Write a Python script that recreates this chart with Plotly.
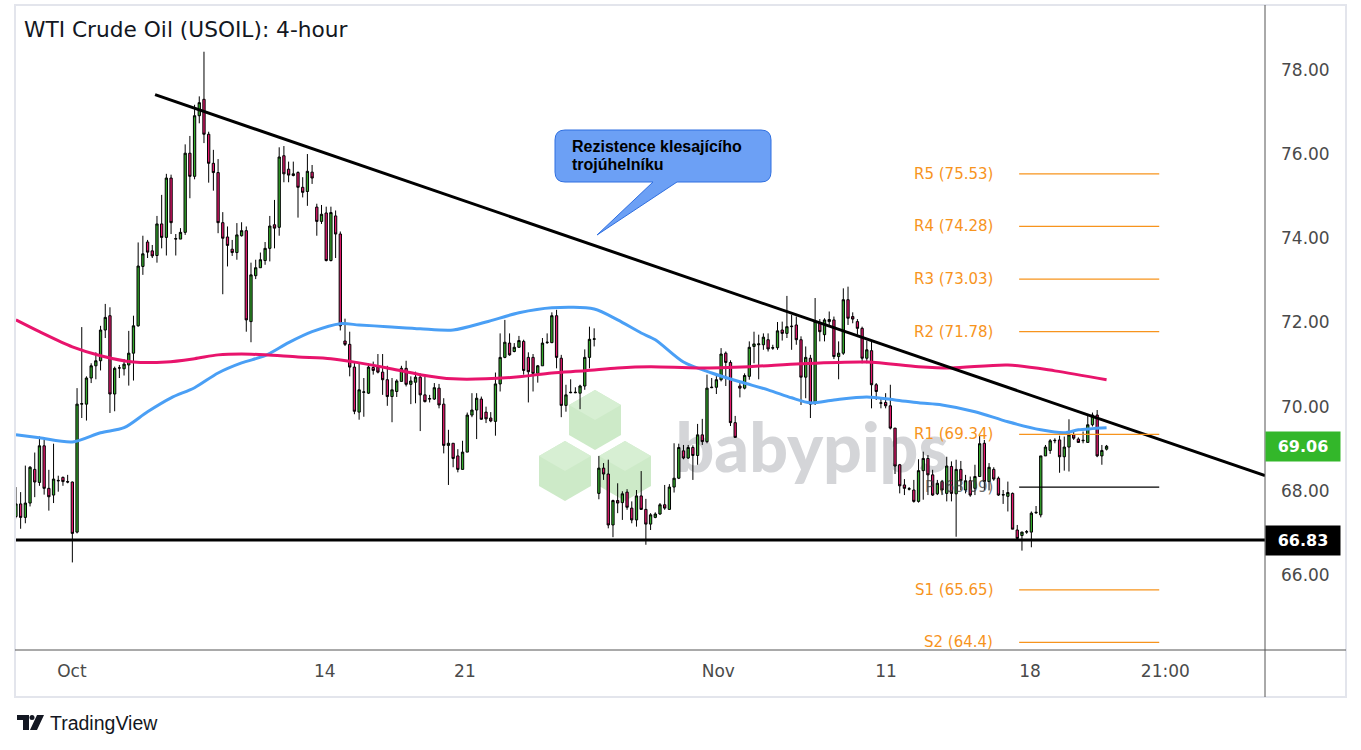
import plotly.graph_objects as go

# ---------------- data ----------------
open_ = [
    67.39, 67.69, 67.37, 67.71, 68.51, 68.20, 69.07, 68.06, 67.90, 68.25,
    68.32, 68.22, 68.21, 67.02, 70.06, 70.06, 70.68, 70.97, 71.09, 71.82,
    72.16, 70.30, 70.92, 70.90, 70.99, 71.27, 71.92, 73.33, 73.91, 73.70,
    73.59, 74.34, 74.02, 75.43, 73.98, 73.98, 74.14, 76.02, 75.47, 76.91,
    77.30, 76.47, 75.78, 75.56, 74.37, 74.03, 73.74, 73.66, 74.06, 74.18,
    72.02, 73.11, 73.30, 73.47, 73.76, 74.32, 74.26, 75.96, 75.64, 75.49,
    75.56, 75.21, 75.11, 75.57, 74.74, 74.40, 74.60, 73.47, 74.53, 74.10,
    71.56, 71.48, 70.94, 69.87, 70.34, 70.32, 70.93, 70.94, 70.82, 70.64,
    70.24, 70.36, 70.60, 70.91, 70.53, 70.58, 70.70, 70.28, 70.18, 70.18,
    70.44, 70.06, 69.08, 69.13, 68.83, 68.51, 68.92, 69.80, 69.92, 70.18,
    69.87, 69.73, 69.65, 70.54, 71.17, 71.51, 71.31, 71.41, 71.55, 71.17,
    71.17, 70.79, 70.97, 71.52, 71.52, 72.16, 71.15, 70.03, 70.33, 70.33,
    70.32, 70.49, 71.17, 71.60, 67.94, 68.54, 68.40, 67.19, 67.77, 67.72,
    67.97, 67.59, 67.31, 67.88, 67.56, 67.21, 67.37, 67.45, 67.67, 67.56,
    68.09, 68.30, 68.95, 68.78, 69.03, 68.84, 69.33, 69.17, 70.45, 70.46,
    70.64, 71.27, 71.05, 69.62, 70.49, 70.44, 70.72, 71.43, 71.47, 71.47,
    71.59, 71.39, 71.40, 71.82, 71.74, 71.90, 71.94, 71.59, 70.70, 71.15,
    70.08, 71.98, 71.71, 72.02, 72.06, 71.19, 71.27, 72.54, 72.14, 72.02,
    71.86, 71.15, 71.33, 70.52, 70.08, 70.10, 70.02, 69.49, 68.62, 68.14,
    68.04, 68.02, 67.75, 68.48, 68.77, 68.38, 67.93, 68.22, 67.94, 68.58,
    67.93, 68.51, 68.02, 68.24, 68.06, 68.34, 69.13, 68.22, 68.51, 68.30,
    67.90, 67.87, 67.94, 67.07, 66.94, 67.02, 67.02, 67.48, 67.43, 68.83,
    68.96, 69.19, 69.21, 68.81, 69.04, 69.33, 69.23, 69.19, 69.15, 69.57,
    69.80, 68.83, 68.99,
]
high = [
    68.09, 67.97, 68.60, 68.59, 68.91, 69.29, 69.21, 68.50, 69.12, 68.36,
    68.34, 68.38, 68.22, 70.44, 71.89, 70.72, 71.03, 71.29, 71.92, 72.44,
    72.36, 70.95, 70.99, 71.13, 71.80, 72.16, 73.90, 74.06, 73.96, 73.84,
    74.53, 75.03, 75.53, 75.51, 74.10, 74.24, 76.23, 76.43, 77.17, 77.37,
    78.43, 76.53, 76.10, 75.88, 74.62, 74.28, 73.96, 74.36, 74.38, 74.28,
    73.42, 73.49, 73.66, 73.91, 74.53, 74.91, 76.16, 76.19, 75.82, 75.82,
    75.59, 75.45, 76.00, 75.74, 74.82, 74.79, 74.75, 74.75, 74.66, 74.16,
    72.09, 71.78, 71.05, 71.05, 70.68, 71.03, 71.07, 71.25, 71.25, 70.97,
    70.68, 70.65, 70.97, 71.09, 70.72, 70.83, 70.79, 70.72, 70.28, 70.56,
    70.54, 70.20, 69.45, 69.13, 68.99, 69.19, 69.86, 70.32, 70.32, 70.24,
    70.00, 69.87, 70.81, 71.74, 72.06, 71.74, 71.51, 71.68, 71.59, 71.29,
    71.25, 70.99, 71.63, 71.74, 72.24, 72.30, 71.23, 70.52, 70.65, 70.46,
    70.52, 71.36, 71.90, 71.86, 68.83, 68.66, 68.74, 67.79, 68.18, 67.99,
    68.04, 67.75, 68.02, 68.47, 67.81, 67.47, 67.49, 67.71, 68.14, 68.16,
    69.13, 69.12, 69.09, 69.09, 69.08, 69.59, 69.71, 70.76, 70.68, 70.78,
    71.39, 71.31, 71.10, 69.78, 70.56, 70.79, 71.55, 71.78, 71.71, 71.74,
    71.74, 71.47, 72.01, 72.02, 72.63, 72.18, 72.14, 71.67, 71.43, 71.23,
    72.58, 72.08, 72.10, 72.26, 72.14, 71.55, 72.81, 72.85, 72.24, 72.08,
    71.90, 71.57, 71.55, 70.56, 70.20, 70.32, 70.52, 69.49, 68.64, 68.28,
    68.09, 68.26, 68.75, 68.93, 68.85, 68.50, 68.26, 68.26, 68.81, 68.70,
    68.74, 68.71, 68.38, 68.34, 68.62, 69.33, 69.21, 68.66, 68.56, 68.34,
    68.02, 68.22, 67.96, 67.19, 67.03, 67.07, 67.51, 67.64, 68.83, 69.09,
    69.23, 69.25, 69.31, 69.29, 69.70, 69.41, 69.27, 69.41, 69.78, 69.86,
    69.92, 69.09, 69.09,
]
low = [
    67.35, 67.10, 67.23, 67.63, 67.85, 68.12, 67.91, 67.53, 67.71, 67.98,
    68.12, 68.18, 66.30, 66.99, 69.73, 69.67, 70.56, 70.65, 70.86, 71.63,
    69.85, 69.89, 70.68, 70.74, 70.50, 70.62, 71.90, 73.13, 73.53, 73.53,
    73.42, 73.76, 73.59, 74.10, 73.59, 73.98, 74.08, 74.95, 75.40, 76.73,
    76.26, 75.32, 75.13, 74.12, 72.67, 73.33, 73.58, 73.49, 74.04, 71.78,
    71.53, 73.03, 73.30, 73.37, 73.45, 73.76, 74.06, 75.33, 75.33, 75.47,
    74.49, 74.97, 74.77, 75.29, 74.06, 74.34, 73.45, 73.45, 73.53, 71.81,
    71.44, 70.72, 69.82, 69.69, 69.76, 70.30, 70.76, 70.79, 70.28, 70.02,
    69.63, 70.23, 70.60, 70.48, 70.06, 70.08, 69.42, 70.10, 70.10, 70.16,
    69.96, 68.89, 68.14, 68.56, 68.44, 68.51, 68.92, 69.75, 69.23, 69.69,
    69.61, 69.63, 69.31, 70.36, 71.15, 71.21, 71.29, 71.40, 70.76, 70.10,
    70.36, 70.57, 70.97, 71.49, 71.51, 70.91, 69.75, 69.88, 70.32, 70.32,
    69.94, 70.40, 70.91, 71.43, 67.80, 68.26, 67.11, 66.90, 67.47, 67.31,
    67.55, 67.23, 67.15, 67.55, 66.72, 67.07, 67.35, 67.43, 67.55, 67.55,
    67.96, 68.28, 68.75, 68.76, 68.26, 68.62, 69.09, 69.13, 70.44, 70.30,
    70.60, 70.49, 69.54, 69.27, 70.22, 70.41, 70.64, 71.03, 70.65, 71.35,
    71.31, 71.35, 71.35, 71.57, 71.63, 71.35, 71.47, 70.04, 70.20, 69.73,
    70.04, 71.55, 71.55, 71.94, 71.13, 70.65, 71.23, 71.94, 71.98, 71.71,
    71.03, 71.03, 69.96, 70.16, 69.96, 69.96, 69.46, 68.40, 67.94, 67.90,
    68.01, 67.72, 67.72, 67.79, 67.90, 67.88, 67.90, 67.90, 67.75, 67.75,
    66.91, 68.02, 67.94, 67.86, 67.90, 68.34, 68.02, 68.01, 68.24, 67.88,
    67.69, 67.51, 67.09, 66.85, 66.58, 66.98, 66.66, 67.45, 67.37, 68.83,
    68.88, 69.13, 68.43, 68.48, 68.46, 69.21, 69.15, 69.13, 69.15, 69.53,
    68.80, 68.62, 68.96,
]
close = [
    67.69, 67.37, 67.71, 68.56, 68.21, 69.07, 68.06, 67.86, 68.28, 68.24,
    68.22, 68.21, 66.99, 70.06, 70.07, 70.68, 70.97, 71.09, 71.82, 72.12,
    70.30, 70.91, 70.92, 71.01, 71.27, 71.92, 73.34, 73.63, 73.67, 73.58,
    74.34, 74.02, 75.43, 74.37, 73.99, 74.14, 76.02, 75.47, 76.91, 77.22,
    76.47, 75.78, 75.56, 74.37, 74.00, 73.83, 73.66, 74.08, 74.18, 72.06,
    73.13, 73.30, 73.49, 73.76, 74.29, 74.24, 75.93, 75.53, 75.50, 75.53,
    75.21, 75.09, 75.59, 75.43, 74.40, 74.57, 73.47, 74.61, 74.10, 71.92,
    71.48, 70.94, 69.89, 70.40, 70.35, 70.94, 70.86, 70.82, 70.64, 70.24,
    70.40, 70.61, 70.91, 70.53, 70.61, 70.70, 70.28, 70.12, 70.19, 70.45,
    70.04, 69.08, 69.13, 68.77, 68.51, 68.92, 69.80, 69.92, 70.20, 69.70,
    69.71, 69.66, 70.54, 71.17, 71.53, 71.23, 71.41, 71.57, 70.86, 70.83,
    70.79, 70.97, 71.51, 71.53, 72.16, 71.17, 70.03, 70.28, 70.34, 70.34,
    70.49, 71.17, 71.60, 71.61, 68.54, 68.40, 67.19, 67.77, 67.71, 67.93,
    67.61, 67.31, 67.88, 67.56, 67.21, 67.43, 67.45, 67.67, 67.59, 68.09,
    68.30, 69.03, 68.78, 69.03, 68.84, 69.33, 69.17, 70.44, 70.46, 70.64,
    71.25, 71.05, 69.62, 69.27, 70.44, 70.74, 71.41, 71.49, 71.49, 71.65,
    71.37, 71.40, 71.80, 71.74, 71.90, 71.91, 71.59, 70.70, 71.17, 70.06,
    72.02, 71.78, 72.06, 72.07, 71.19, 71.27, 72.54, 72.10, 72.08, 71.86,
    71.15, 71.35, 70.52, 70.36, 70.09, 70.02, 69.49, 68.59, 68.12, 68.06,
    68.05, 67.75, 68.48, 68.77, 68.38, 67.90, 68.18, 68.02, 68.59, 67.94,
    68.51, 68.24, 68.24, 67.90, 68.34, 69.12, 68.22, 68.56, 68.28, 67.90,
    67.91, 67.96, 67.09, 66.87, 67.02, 67.03, 67.47, 67.49, 68.83, 69.04,
    69.19, 69.20, 68.81, 69.04, 69.33, 69.25, 69.15, 69.20, 69.57, 69.80,
    68.83, 68.96, 69.06,
]

# moving averages read at selected candles (candle index, price)
ma_blue_idx = [0, 5, 12, 18, 23, 28, 33, 38, 43, 48, 53, 58, 63, 69, 73, 79, 86, 93,
               100, 107, 114, 123, 128, 133, 136, 142, 148, 154, 160, 165, 169, 174,
               181, 187, 192, 197, 204, 211, 218, 223, 226, 232]
ma_blue_val = [69.33, 69.26, 69.16, 69.38, 69.50, 69.88, 70.21, 70.45, 70.80, 71.04,
               71.21, 71.52, 71.78, 71.97, 71.94, 71.90, 71.85, 71.82, 72.01, 72.23,
               72.35, 72.32, 72.06, 71.75, 71.59, 71.06, 70.80, 70.59, 70.40, 70.21,
               70.09, 70.16, 70.23, 70.16, 70.09, 70.04, 69.88, 69.64, 69.45, 69.38,
               69.45, 69.50]
ma_pink_idx = [0, 5, 12, 18, 25, 32, 38, 43, 48, 53, 60, 67, 73, 79, 86, 93, 100, 107,
               114, 121, 128, 135, 145, 156, 167, 181, 192, 199, 211, 221, 232]
ma_pink_val = [72.06, 71.78, 71.42, 71.21, 71.06, 71.06, 71.14, 71.23, 71.25, 71.23,
               71.18, 71.14, 71.04, 70.92, 70.76, 70.66, 70.66, 70.71, 70.80, 70.85,
               70.92, 70.95, 70.92, 70.95, 71.02, 71.06, 70.95, 70.92, 70.99, 70.85,
               70.64]

pivot_names = ["R5", "R4", "R3", "R2", "R1", "P", "S1", "S2"]
pivot_values = [75.53, 74.28, 73.03, 71.78, 69.34, 68.09, 65.65, 64.4]

tick_pos = [11.9, 65.7, 95.5, 149.4, 185.1, 215.7, 244.5]
tick_labels = ["Oct", "14", "21", "Nov", "11", "18", "21:00"]
price_ticks = [66, 68, 70, 72, 74, 76, 78]

support_level = 66.83
last_price = 69.06
trend_x = [29.6, 265.7]
trend_y = [77.41, 68.36]
pivot_x = [213.4, 243.2]
pivot_label_x = 208.3

title_text = "WTI Crude Oil (USOIL): 4-hour"
callout_lines = ["Rezistence klesajícího", "trojúhelníku"]

# ---------------- layout geometry (pixels) ----------------
W, H = 1361, 750
PL, PR, PT, PB = 15, 1265, 5, 650
XR = [-0.2, 265.7]
YR = [64.22, 79.54]


def px(x):
    return (x - PL) / (PR - PL)


def py(y):
    return (PB - y) / (PB - PT)


def path(points, close_path=True):
    s = "M {:.5f},{:.5f}".format(px(points[0][0]), py(points[0][1]))
    for p in points[1:]:
        s += " L {:.5f},{:.5f}".format(px(p[0]), py(p[1]))
    if close_path:
        s += " Z"
    return s


fig = go.Figure()

fig.add_trace(go.Candlestick(
    x=list(range(len(open_))), open=open_, high=high, low=low, close=close,
    increasing=dict(line=dict(color="#000000", width=1), fillcolor="#33a82b"),
    decreasing=dict(line=dict(color="#000000", width=1), fillcolor="#e3186c"),
    whiskerwidth=0, hoverinfo="skip", showlegend=False,
))
fig.add_trace(go.Scatter(x=ma_blue_idx, y=ma_blue_val, mode="lines",
                         line=dict(color="#4a9ff5", width=3, shape="spline", smoothing=0.8),
                         hoverinfo="skip", showlegend=False))
fig.add_trace(go.Scatter(x=ma_pink_idx, y=ma_pink_val, mode="lines",
                         line=dict(color="#e8146c", width=3, shape="spline", smoothing=0.8),
                         hoverinfo="skip", showlegend=False))

shapes = []
annotations = []

# watermark (behind)
GREEN_HEX = "#cdeac8"
GREEN_TOP = "#d7efd3"
for cx, cy in [(595, 420), (565, 471), (625, 471)]:
    r = 30
    k = 0.866 * r
    shapes.append(dict(type="path", xref="paper", yref="paper", layer="below",
                       path=path([(cx, cy - r), (cx + k, cy - r / 2), (cx + k, cy + r / 2),
                                  (cx, cy + r), (cx - k, cy + r / 2), (cx - k, cy - r / 2)]),
                       fillcolor=GREEN_HEX, line=dict(width=0)))
    shapes.append(dict(type="path", xref="paper", yref="paper", layer="below",
                       path=path([(cx, cy - r), (cx + k, cy - r / 2), (cx, cy), (cx - k, cy - r / 2)]),
                       fillcolor=GREEN_TOP, line=dict(width=0)))
shapes.append(dict(type="rect", xref="paper", yref="paper", layer="below",
                   x0=px(672), x1=px(952), y0=py(490), y1=py(398),
                   line=dict(width=0), fillcolor="rgba(0,0,0,0)",
                   label=dict(text="babypips", textposition="middle center",
                              font=dict(family="Lato", size=68, weight=900, color="#d4d5d8"))))

# trend line and support
shapes.append(dict(type="line", xref="x", yref="y", x0=trend_x[0], y0=trend_y[0],
                   x1=trend_x[1], y1=trend_y[1], line=dict(color="#000000", width=3)))
shapes.append(dict(type="line", xref="x", yref="y", x0=XR[0], y0=support_level,
                   x1=XR[1], y1=support_level, line=dict(color="#000000", width=3)))

# pivots
ORANGE = "#f7941d"
for name, val in zip(pivot_names, pivot_values):
    col = "#000000" if name == "P" else ORANGE
    shapes.append(dict(type="line", xref="x", yref="y", x0=pivot_x[0], x1=pivot_x[1],
                       y0=val, y1=val, line=dict(color=col, width=1.2)))
    annotations.append(dict(x=pivot_label_x, y=val, xref="x", yref="y",
                            text="{} ({})".format(name, val), showarrow=False,
                            xanchor="right", yanchor="middle",
                            font=dict(family="DejaVu Sans", size=15,
                                      color="rgba(60,60,60,0.75)" if name == "P" else ORANGE)))

# frame lines
shapes.append(dict(type="rect", xref="paper", yref="paper", x0=px(15), x1=px(1346),
                   y0=py(697), y1=py(5), line=dict(color="#e3e5ec", width=2)))
shapes.append(dict(type="line", xref="paper", yref="paper", x0=px(15), x1=px(1346),
                   y0=py(650), y1=py(650), line=dict(color="#555555", width=1)))
shapes.append(dict(type="line", xref="paper", yref="paper", x0=px(1265), x1=px(1265),
                   y0=py(5), y1=py(697), line=dict(color="#555555", width=1)))

# callout bubble
bx0, by0, bx1, by1, rr = 555, 130, 771, 182, 10
cp = "M {:.5f},{:.5f}".format(px(bx0 + rr), py(by0))
cp += " L {:.5f},{:.5f}".format(px(bx1 - rr), py(by0))
cp += " Q {:.5f},{:.5f} {:.5f},{:.5f}".format(px(bx1), py(by0), px(bx1), py(by0 + rr))
cp += " L {:.5f},{:.5f}".format(px(bx1), py(by1 - rr))
cp += " Q {:.5f},{:.5f} {:.5f},{:.5f}".format(px(bx1), py(by1), px(bx1 - rr), py(by1))
cp += " L {:.5f},{:.5f}".format(px(677), py(by1))
cp += " L {:.5f},{:.5f}".format(px(597), py(235))
cp += " L {:.5f},{:.5f}".format(px(653), py(by1))
cp += " L {:.5f},{:.5f}".format(px(bx0 + rr), py(by1))
cp += " Q {:.5f},{:.5f} {:.5f},{:.5f}".format(px(bx0), py(by1), px(bx0), py(by1 - rr))
cp += " L {:.5f},{:.5f}".format(px(bx0), py(by0 + rr))
cp += " Q {:.5f},{:.5f} {:.5f},{:.5f} Z".format(px(bx0), py(by0), px(bx0 + rr), py(by0))
shapes.append(dict(type="path", xref="paper", yref="paper", path=cp,
                   fillcolor="#6ca0f5", line=dict(color="#2f6fe0", width=1)))
for line_text, ly in zip(callout_lines, [146, 164]):
    annotations.append(dict(x=px(570), y=py(ly), xref="paper", yref="paper",
                            text="<b>" + line_text + "</b>", showarrow=False,
                            xanchor="left", yanchor="middle", align="left",
                            font=dict(family="Liberation Sans", size=16, color="#000000")))

# title
annotations.append(dict(x=px(22), y=py(30), xref="paper", yref="paper", text=title_text,
                        showarrow=False, xanchor="left", yanchor="middle",
                        font=dict(family="DejaVu Sans", size=21.7, color="#131722")))

# price tags
for val, bg in [(last_price, "#33b72a"), (support_level, "#000000")]:
    annotations.append(dict(x=px(1265), y=val, xref="paper", yref="y",
                            text="<b>{:.2f}</b>".format(val), showarrow=False,
                            xanchor="left", yanchor="middle", bgcolor=bg,
                            width=74, height=29, borderpad=0, align="center",
                            font=dict(family="DejaVu Sans", size=16, color="#ffffff")))

# TradingView logo
shapes.append(dict(type="path", xref="paper", yref="paper",
                   path=path([(17, 715), (29, 715), (29, 730), (23, 730), (23, 720), (17, 720)]),
                   fillcolor="#131722", line=dict(width=0)))
shapes.append(dict(type="circle", xref="paper", yref="paper",
                   x0=px(29.5), x1=px(34.5), y0=py(720), y1=py(715),
                   fillcolor="#131722", line=dict(width=0)))
shapes.append(dict(type="path", xref="paper", yref="paper",
                   path=path([(37, 715), (44, 715), (37, 730), (30, 730)]),
                   fillcolor="#131722", line=dict(width=0)))
annotations.append(dict(x=px(48), y=py(723), xref="paper", yref="paper", text="TradingView",
                        showarrow=False, xanchor="left", yanchor="middle",
                        font=dict(family="Liberation Sans", size=19.5, color="#131722")))

fig.update_layout(
    width=W, height=H,
    margin=dict(l=PL, r=W - PR, t=PT, b=H - PB, pad=0),
    paper_bgcolor="#ffffff", plot_bgcolor="#ffffff",
    showlegend=False, hovermode=False,
    shapes=shapes, annotations=annotations,
    xaxis=dict(range=XR, tickvals=tick_pos, ticktext=tick_labels, showgrid=False,
               zeroline=False, showline=False, ticks="", ticklabelstandoff=9,
               rangeslider=dict(visible=False), fixedrange=True,
               tickfont=dict(family="DejaVu Sans", size=17, color="#4a4a4a")),
    yaxis=dict(range=YR, side="right", tickvals=price_ticks,
               ticktext=["{:.2f}".format(v) for v in price_ticks], showgrid=False,
               zeroline=False, showline=False, ticks="", ticklabelstandoff=15,
               fixedrange=True,
               tickfont=dict(family="DejaVu Sans", size=17, color="#4a4a4a")),
)

fig.write_html("out.html", config=dict(displayModeBar=False),
               post_script="document.body.style.margin='0';document.body.style.overflow='hidden';")
